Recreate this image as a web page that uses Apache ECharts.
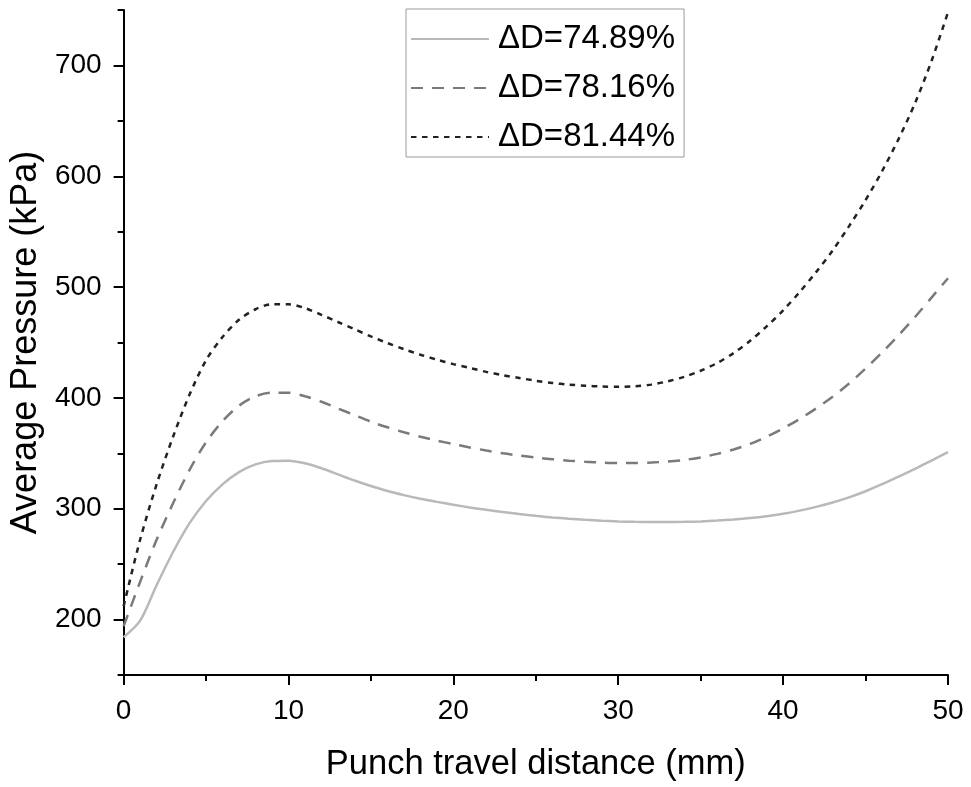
<!DOCTYPE html>
<html>
<head>
<meta charset="utf-8">
<script src="https://cdn.jsdelivr.net/npm/echarts@6/dist/echarts.min.js"></script>
<style>
  html, body { margin: 0; padding: 0; background: #fff; }
  #chart { width: 971px; height: 787px; }
</style>
</head>
<body>
<div id="chart"></div>
<script>
// Punch travel distance (mm), 1 mm steps
const distance = [0, 1, 2, 3, 4, 5, 6, 7, 8, 9, 10, 11, 12, 13, 14, 15, 16, 17, 18, 19, 20, 21, 22, 23, 24, 25,
  26, 27, 28, 29, 30, 31, 32, 33, 34, 35, 36, 37, 38, 39, 40, 41, 42, 43, 44, 45, 46, 47, 48, 49, 50];
// Average pressure (kPa) for each diameter reduction
const pressure7489 = [184, 199, 231, 261, 287, 307, 322, 333, 340, 343, 343.3, 341, 336.5, 331, 325.5, 320.5, 316, 312.3, 309, 306.2, 303.6, 301.2, 299, 297, 295.2, 293.6,
  292.2, 291, 290, 289.2, 288.6, 288.2, 288, 288, 288.2, 288.6, 289.3, 290.3, 291.6, 293.3, 295.5, 298.3, 301.7, 305.7, 310.3, 315.8, 322.2, 329, 336, 343.5, 351];
const pressure7816 = [194, 234, 272, 305, 335, 360, 379, 393, 401.5, 404.7, 404.7, 401.5, 396.5, 390.5, 384.5, 378.5, 373.5, 369, 365, 361.5, 358.3, 355.3, 352.5, 350, 348, 346.2,
  344.7, 343.4, 342.4, 341.7, 341.3, 341.3, 341.7, 342.6, 344, 346.3, 349.5, 353.5, 358.5, 365, 372.5, 381, 390.5, 401, 413, 426.5, 441, 456.5, 473, 490.5, 508];
const pressure8144 = [212, 272, 322, 365, 403, 434, 455, 470.5, 480, 484.5, 484.5, 481, 475, 468.5, 462, 455.5, 449.5, 444, 439, 434.5, 430.5, 427, 423.5, 420.5, 418, 415.5,
  413.5, 412, 411, 410.3, 410, 410.5, 412, 415, 419, 424.5, 431.5, 440.5, 451.5, 464.5, 479, 495.5, 513.5, 533, 555, 578.5, 604.5, 633.5, 666, 704, 748];
const seriesNames = ['\u0394D=74.89%', '\u0394D=78.16%', '\u0394D=81.44%'];
const yLabelValues = [200, 300, 400, 500, 600, 700];

const FONT = 'Liberation Sans, Arial, sans-serif';
const pair = (vals) => distance.map((d, i) => [d, vals[i]]);

const chart = echarts.init(document.getElementById('chart'), null, { renderer: 'canvas' });

const lineSeries = (name, vals, color, type) => ({
  name: name,
  type: 'line',
  data: pair(vals),
  smooth: 0.3,
  symbol: 'none',
  showSymbol: false,
  lineStyle: { color: color, width: 2.5, type: type },
  itemStyle: { color: color },
  z: 3
});

chart.setOption({
  animation: false,
  backgroundColor: '#fff',
  grid: { left: 123, right: 23, top: 10, bottom: 111, containLabel: false },
  legend: {
    orient: 'vertical',
    left: 406,
    top: 9,
    padding: [10, 9, 0, 4],
    itemWidth: 78,
    itemHeight: 14,
    itemGap: 9,
    borderColor: '#9a9a9a',
    borderWidth: 1,
    itemStyle: { opacity: 0 },
    textStyle: { fontFamily: FONT, fontSize: 33, color: '#000', lineHeight: 40, padding: [0, 0, 0, 4] },
    data: seriesNames
  },
  xAxis: {
    type: 'value',
    min: 0, max: 50, interval: 10,
    name: 'Punch travel distance (mm)',
    nameLocation: 'middle',
    nameGap: 72,
    nameTextStyle: { fontFamily: FONT, fontSize: 34.5, color: '#000' },
    axisLine: { show: true, onZero: false, lineStyle: { color: '#000', width: 2 } },
    axisTick: { show: true, inside: false, length: 10, lineStyle: { color: '#000', width: 2 } },
    minorTick: { show: true, splitNumber: 2, length: 6, lineStyle: { color: '#000', width: 2 } },
    axisLabel: { fontFamily: FONT, fontSize: 28, color: '#000', margin: 22 },
    splitLine: { show: false },
    minorSplitLine: { show: false }
  },
  yAxis: [{
    type: 'value',
    min: 150, max: 750, interval: 50,
    name: 'Average Pressure (kPa)',
    nameLocation: 'middle',
    nameGap: 72,
    nameTextStyle: { fontFamily: FONT, fontSize: 36, color: '#000' },
    axisLine: { show: true, onZero: false, lineStyle: { color: '#000', width: 2 } },
    axisTick: { show: true, inside: false, length: 6, lineStyle: { color: '#000', width: 2 } },
    axisLabel: {
      fontFamily: FONT, fontSize: 28, color: '#000', margin: 22,
      customValues: yLabelValues
    },
    splitLine: { show: false }
  }, {
    // long ticks at the labelled values
    type: 'value',
    position: 'left',
    min: 150, max: 750, interval: 50,
    axisLine: { show: false },
    axisTick: { show: true, inside: false, length: 10, customValues: yLabelValues, lineStyle: { color: '#000', width: 2 } },
    axisLabel: { show: false },
    splitLine: { show: false }
  }],
  series: [
    lineSeries(seriesNames[0], pressure7489, '#b9b9b9', 'solid'),
    lineSeries(seriesNames[1], pressure7816, '#7a7a7a', [12, 9]),
    lineSeries(seriesNames[2], pressure8144, '#222222', [5.5, 5.5])
  ]
});
</script>
</body>
</html>
